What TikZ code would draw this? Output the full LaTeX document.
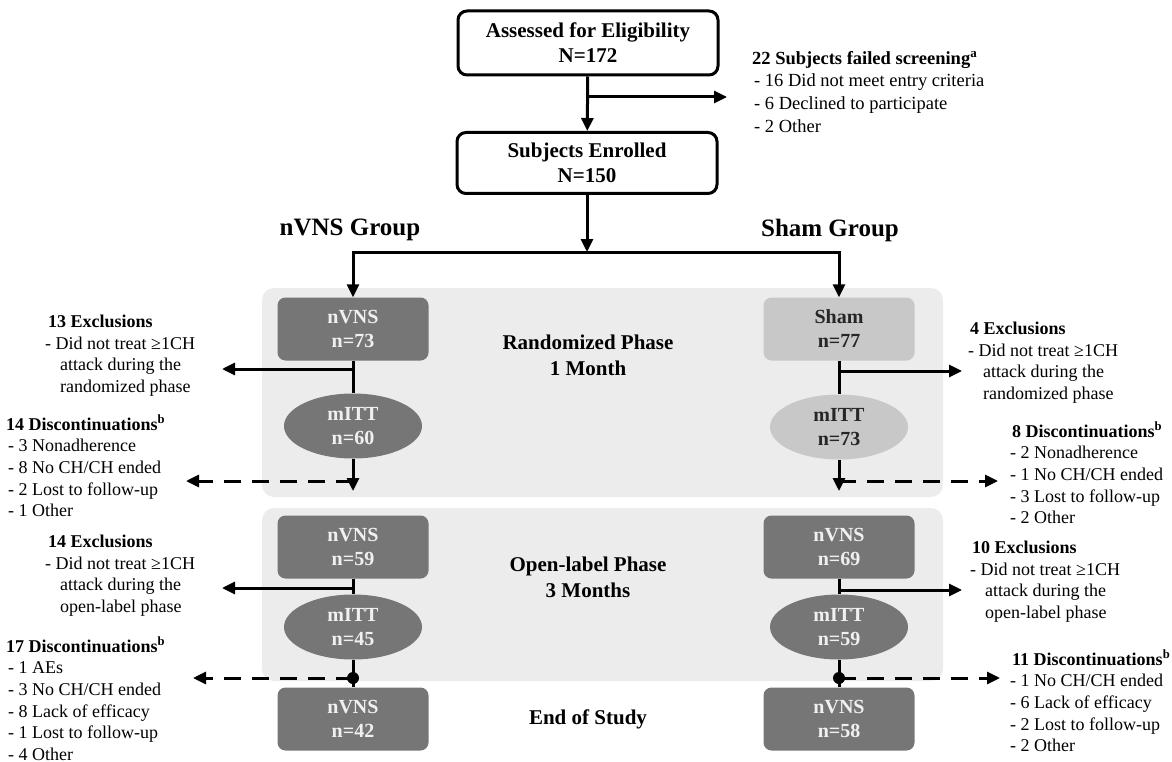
\documentclass[tikz,border=0pt]{standalone}
\usepackage{fontspec}
\setmainfont{Liberation Serif}
\usetikzlibrary{arrows.meta,positioning,shapes.geometric}
\definecolor{dark}{RGB}{118,118,118}
\definecolor{light}{RGB}{200,200,200}
\definecolor{panel}{RGB}{236,236,236}
\definecolor{boxtext}{RGB}{240,240,240}

\begin{document}
\begin{tikzpicture}[x=1pt,y=-1pt,
      every node/.style={font=\fontsize{18}{21.6}\selectfont},
      topbox/.style={draw,line width=3pt,rounded corners=9pt,minimum width=260pt,minimum height=64pt,align=center,font=\fontsize{21}{25}\selectfont\bfseries},
      grpbox/.style={fill=dark,text=boxtext,rounded corners=8pt,minimum width=151pt,minimum height=63pt,align=center,font=\fontsize{20}{24}\selectfont\bfseries},
      shambox/.style={grpbox,fill=light,text=black!85},
      ittell/.style={ellipse,fill=dark,text=boxtext,minimum width=138pt,minimum height=65pt,inner sep=0pt,align=center,font=\fontsize{20}{24}\selectfont\bfseries},
      shamell/.style={ittell,fill=light,text=black!85},
      note/.style={anchor=north west,align=left,inner sep=0pt},
      phase/.style={align=center,font=\fontsize{21}{26}\selectfont\bfseries},
      grp/.style={font=\fontsize{25}{30}\selectfont\bfseries},
      line/.style={line width=3pt},
      arr/.style={line,-{Triangle[length=13pt,width=12pt]}},
      darr/.style={arr,dash pattern=on 17pt off 11pt}]
      \useasboundingbox (0,0) rectangle (1172,762);
      % phase panels
      \fill[panel,rounded corners=12pt] (262,288) rectangle (943,497);
      \fill[panel,rounded corners=12pt] (262,508) rectangle (943,681);

      % screening
      \node[topbox] (elig) at (588,43) {Assessed for Eligibility\\N=172};
      \node[topbox,minimum height=61pt] (enrol) at (587,163) {Subjects Enrolled\\N=150};
      \node[note,font=\fontsize{18.5}{22.6}\selectfont] (scr) at (752,51) {\textbf{22 Subjects failed screening\textsuperscript{a}}\\
        \hspace*{2pt}- 16 Did not meet entry criteria\\\hspace*{2pt}- 6 Declined to participate\\\hspace*{2pt}- 2 Other};
      \node[grp] (gnvns) at (350,230) {nVNS Group};
      \node[grp] (gsham) at (830,230) {Sham Group};

      % randomized phase
      \node[grpbox] (r1) at (353,329) {nVNS\\n=73};
      \node[shambox] (r2) at (839,329) {Sham\\n=77};
      \node[ittell] (m1) at (353,426) {mITT\\n=60};
      \node[shamell] (m2) at (839,427) {mITT\\n=73};
      \node[phase] (ph1) at (588,355) {Randomized Phase\\1 Month};

      % open-label phase
      \node[grpbox] (o1) at (353,547) {nVNS\\n=59};
      \node[grpbox] (o2) at (839,547) {nVNS\\n=69};
      \node[ittell] (m3) at (353,627) {mITT\\n=45};
      \node[ittell] (m4) at (839,627) {mITT\\n=59};
      \node[phase] (ph2) at (588,577) {Open-label Phase\\3 Months};

      % end of study
      \node[grpbox] (e1) at (353,719) {nVNS\\n=42};
      \node[grpbox] (e2) at (839,719) {nVNS\\n=58};
      \node[phase] (ph3) at (588,719) {End of Study};

      % side notes
      \node[note] (exc1) at (45,315) {\textbf{\hspace*{3pt}13 Exclusions}\\- Did not treat ≥1CH\\\hspace*{15pt}attack during the\\\hspace*{15pt}randomized phase};
      \node[note] (dis1) at (6,415) {\textbf{14 Discontinuations\textsuperscript{b}}\\\hspace*{2pt}- 3 Nonadherence\\\hspace*{2pt}- 8 No CH/CH ended\\\hspace*{2pt}- 2 Lost to follow-up\\\hspace*{2pt}- 1 Other};
      \node[note] (exc2) at (968,322) {\textbf{\hspace*{2pt}4 Exclusions}\\- Did not treat ≥1CH\\\hspace*{15pt}attack during the\\\hspace*{15pt}randomized phase};
      \node[note] (dis2) at (1010,422) {\textbf{\hspace*{2pt}8 Discontinuations\textsuperscript{b}}\\- 2 Nonadherence\\- 1 No CH/CH ended\\- 3 Lost to follow-up\\- 2 Other};
      \node[note] (exc3) at (45,535) {\textbf{\hspace*{3pt}14 Exclusions}\\- Did not treat ≥1CH\\\hspace*{15pt}attack during the\\\hspace*{15pt}open-label phase};
      \node[note] (dis3) at (6,637) {\textbf{17 Discontinuations\textsuperscript{b}}\\\hspace*{2pt}- 1 AEs\\\hspace*{2pt}- 3 No CH/CH ended\\\hspace*{2pt}- 8 Lack of efficacy\\\hspace*{2pt}- 1 Lost to follow-up\\\hspace*{2pt}- 4 Other};
      \node[note] (exc4) at (970,541) {\textbf{\hspace*{2pt}10 Exclusions}\\- Did not treat ≥1CH\\\hspace*{15pt}attack during the\\\hspace*{15pt}open-label phase};
      \node[note] (dis4) at (1010,650) {\textbf{\hspace*{2pt}11 Discontinuations\textsuperscript{b}}\\- 1 No CH/CH ended\\- 6 Lack of efficacy\\- 2 Lost to follow-up\\- 2 Other};

      % junctions
      \coordinate (scrj) at (588,97);
      \coordinate (scrend) at (727,97);
      \coordinate (split) at (587,252);
      \coordinate (x1) at (353,369);
      \coordinate (x1end) at (222,369);
      \coordinate (x2) at (839,371);
      \coordinate (x2end) at (962,371);
      \coordinate (d1) at (353,481);
      \coordinate (d1end) at (186,481);
      \coordinate (d1dn) at (353,491);
      \coordinate (d2) at (839,481);
      \coordinate (d2end) at (998,481);
      \coordinate (d2dn) at (839,491);
      \coordinate (x3) at (353,588);
      \coordinate (x3end) at (222,588);
      \coordinate (x4) at (839,590);
      \coordinate (x4end) at (962,590);
      \coordinate (j3) at (353,678);
      \coordinate (j3end) at (193,678);
      \coordinate (j4) at (839,678);
      \coordinate (j4end) at (1000,678);

      % connectors
      \draw[arr] (elig) -- (enrol);
      \draw[arr] (scrj) -- (scrend);
      \draw[arr] (enrol) -- (split);
      \draw[arr,line join=miter] (split) -| (r1);
      \draw[arr,line join=miter] (split) -| (r2);
      \draw[line] (r1) -- (m1);
      \draw[line] (r2) -- (m2);
      \draw[arr] (x1) -- (x1end);
      \draw[arr] (x2) -- (x2end);
      \draw[arr] (m1) -- (d1dn);
      \draw[arr] (m2) -- (d2dn);
      \draw[darr] (d1) -- (d1end);
      \draw[darr] (d2) -- (d2end);
      \draw[line] (o1) -- (m3);
      \draw[line] (o2) -- (m4);
      \draw[arr] (x3) -- (x3end);
      \draw[arr] (x4) -- (x4end);
      \draw[line] (m3) -- (e1);
      \draw[line] (m4) -- (e2);
      \fill (j3) circle (6pt);
      \fill (j4) circle (6pt);
      \draw[darr] (j3) -- (j3end);
      \draw[darr] (j4) -- (j4end);
    \end{tikzpicture}
\end{document}
